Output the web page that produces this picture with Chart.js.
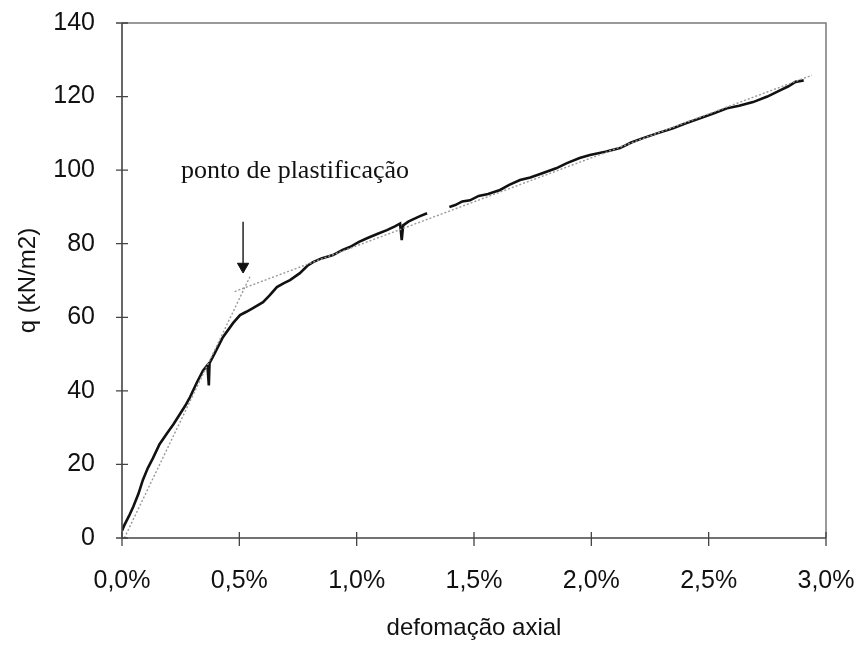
<!DOCTYPE html>
<html>
<head>
<meta charset="utf-8">
<script src="https://cdn.jsdelivr.net/npm/chart.js@4/dist/chart.umd.min.js"></script>
<style>
  html, body { margin: 0; padding: 0; background: #ffffff; }
  canvas { display: block; }
</style>
</head>
<body>
<canvas id="chart" width="858" height="645"></canvas>
<script>
// Axial strain (%) and deviator stress q (kN/m2) measured in the test
const strain = [
  0.000, 0.010, 0.030, 0.048, 0.070, 0.089, 0.110, 0.132, 0.160, 0.192,
  0.220, 0.247, 0.270, 0.290, 0.320, 0.345, 0.364, 0.370, 0.373, 0.396,
  0.430, 0.473, 0.503, 0.530, 0.558, 0.601, 0.630, 0.660, 0.690, 0.716,
  0.758, 0.790, 0.814, 0.850, 0.899, 0.940, 0.971, 1.010, 1.044, 1.090,
  1.129, 1.165, 1.185, 1.192, 1.198, 1.220, 1.240, 1.270, 1.300, 1.350,
  1.395, 1.420, 1.450, 1.483, 1.520, 1.560, 1.611, 1.650, 1.696, 1.740,
  1.794, 1.850, 1.896, 1.950, 1.994, 2.060, 2.122, 2.170, 2.220, 2.280,
  2.348, 2.400, 2.463, 2.520, 2.578, 2.630, 2.689, 2.750, 2.804, 2.840,
  2.870, 2.905
];
const stress = [
  2.0, 3.5, 6.0, 8.5, 12.0, 15.8, 19.0, 21.7, 25.5, 28.5,
  31.0, 33.7, 36.0, 38.3, 42.4, 45.5, 47.0, 41.5, 47.5, 50.3,
  54.6, 58.4, 60.6, 61.5, 62.5, 64.1, 66.0, 68.2, 69.3, 70.1,
  72.0, 74.0, 75.0, 76.0, 76.9, 78.3, 79.1, 80.5, 81.5, 82.7,
  83.7, 84.8, 85.5, 81.0, 85.0, 86.0, 86.6, 87.5, 88.3, null,
  90.0, 90.5, 91.5, 91.8, 93.0, 93.5, 94.6, 96.0, 97.3, 98.0,
  99.2, 100.5, 101.9, 103.3, 104.1, 105.0, 106.0, 107.5, 108.7, 110.0,
  111.4, 112.7, 114.1, 115.4, 116.8, 117.5, 118.5, 120.0, 121.7, 122.8,
  124.0, 124.4
];

// Straight-line fits for the elastic and plastic branches
const elasticFitStrain = [0.01, 0.545];
const elasticFitStress = [0.0, 71.0];
const plasticFitStrain = [0.48, 2.94];
const plasticFitStress = [67.0, 125.8];

// Arrow marking the yield point
const arrowStrain = [0.516, 0.516];
const arrowStress = [86.0, 73.8];
const annotationText = 'ponto de plastificação';
const annotationStrain = 0.737;
const annotationStress = 98.0;

// Axis ticks
const xTicks = [0, 0.5, 1.0, 1.5, 2.0, 2.5, 3.0];
const yTicks = [0, 20, 40, 60, 80, 100, 120, 140];
const xTitle = 'defomação axial';
const yTitle = 'q (kN/m2)';

const toPoints = (xs, ys) => xs.map((x, i) => ({ x: x, y: ys[i] }));

// Box around the plot area, crossing tick marks and the annotation label
const frameAndLabels = {
  id: 'frameAndLabels',
  afterDatasetsDraw(chart) {
    const { ctx, chartArea: a, scales: { x, y } } = chart;
    ctx.save();
    ctx.lineCap = 'butt';
    // top and right edges
    ctx.strokeStyle = '#7a7a7a';
    ctx.lineWidth = 1.5;
    ctx.beginPath();
    ctx.moveTo(a.left, a.top);
    ctx.lineTo(a.right, a.top);
    ctx.lineTo(a.right, a.bottom);
    ctx.stroke();
    // left and bottom axes
    ctx.strokeStyle = '#444';
    ctx.lineWidth = 1.6;
    ctx.beginPath();
    ctx.moveTo(a.left, a.top);
    ctx.lineTo(a.left, a.bottom);
    ctx.lineTo(a.right, a.bottom);
    ctx.stroke();
    // tick marks crossing the axes
    ctx.lineWidth = 1.3;
    ctx.beginPath();
    yTicks.forEach(v => {
      const py = y.getPixelForValue(v);
      ctx.moveTo(a.left - 6, py);
      ctx.lineTo(a.left + 6, py);
    });
    xTicks.forEach(v => {
      const px = x.getPixelForValue(v);
      ctx.moveTo(px, a.bottom - 6);
      ctx.lineTo(px, a.bottom + 8);
    });
    ctx.stroke();
    // annotation
    ctx.fillStyle = '#111';
    ctx.font = '26px "Liberation Serif", "Times New Roman", serif';
    ctx.textAlign = 'center';
    ctx.textBaseline = 'alphabetic';
    ctx.fillText(annotationText, x.getPixelForValue(annotationStrain), y.getPixelForValue(annotationStress));
    ctx.restore();
  }
};

const tickFont = { family: '"Liberation Sans", Arial, sans-serif', size: 25 };

new Chart(document.getElementById('chart'), {
  type: 'scatter',
  data: {
    datasets: [
      {
        data: toPoints(elasticFitStrain, elasticFitStress),
        showLine: true, borderColor: '#999', borderWidth: 1.4,
        borderDash: [2, 2], pointRadius: 0
      },
      {
        data: toPoints(plasticFitStrain, plasticFitStress),
        showLine: true, borderColor: '#999', borderWidth: 1.4,
        borderDash: [2, 2], pointRadius: 0
      },
      {
        data: toPoints(strain, stress),
        showLine: true, spanGaps: false, borderColor: '#111', borderWidth: 2.6,
        pointRadius: 0, tension: 0
      },
      {
        data: toPoints(arrowStrain, arrowStress),
        showLine: true, borderColor: '#333', borderWidth: 1.6,
        pointRadius: [0, 6.5], pointStyle: 'triangle', rotation: 180,
        pointBackgroundColor: '#111', pointBorderColor: '#111', pointBorderWidth: 1
      }
    ]
  },
  options: {
    responsive: false,
    animation: false,
    events: [],
    layout: { autoPadding: false, padding: { top: 23, right: 32, left: 0, bottom: 0 } },
    plugins: { legend: { display: false }, tooltip: { enabled: false } },
    scales: {
      x: {
        type: 'linear', min: 0, max: 3,
        afterFit(scale) {
          scale.height = 107;
          scale.paddingLeft = 0; scale.paddingRight = 0;
          scale.paddingTop = 0; scale.paddingBottom = 0;
        },
        afterBuildTicks(scale) { scale.ticks = xTicks.map(v => ({ value: v })); },
        grid: { display: false, drawTicks: false },
        border: { display: false },
        ticks: {
          color: '#111', font: tickFont, padding: 28, maxRotation: 0,
          callback: v => v.toFixed(1).replace('.', ',') + '%'
        },
        title: {
          display: true, text: xTitle, color: '#111',
          font: { family: '"Liberation Sans", Arial, sans-serif', size: 24 },
          padding: { top: 0, bottom: 2 }
        }
      },
      y: {
        type: 'linear', min: 0, max: 140,
        afterFit(scale) {
          scale.width = 122;
          scale.paddingLeft = 0; scale.paddingRight = 0;
          scale.paddingTop = 0; scale.paddingBottom = 0;
        },
        afterBuildTicks(scale) { scale.ticks = yTicks.map(v => ({ value: v })); },
        grid: { display: false, drawTicks: false },
        border: { display: false },
        ticks: { color: '#111', font: tickFont, padding: 27 },
        title: {
          display: true, text: yTitle, color: '#111',
          font: { family: '"Liberation Sans", Arial, sans-serif', size: 24 },
          padding: { top: 14, bottom: 0 }
        }
      }
    }
  },
  plugins: [frameAndLabels]
});
</script>
</body>
</html>
